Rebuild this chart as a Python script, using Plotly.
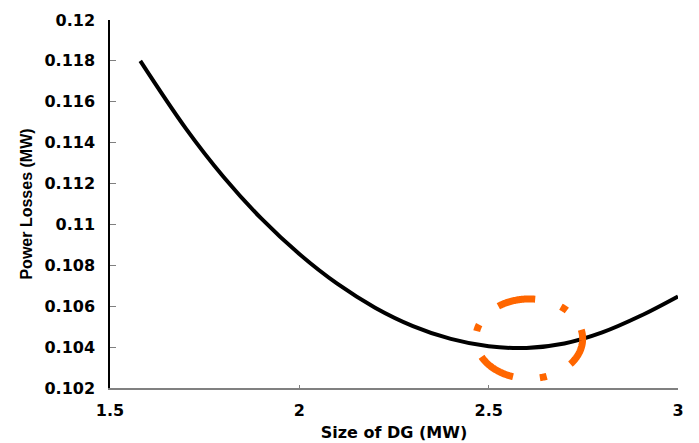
import numpy as np
import plotly.graph_objects as go

# Data
dg_size = [1.58, 1.7, 1.8, 1.9, 2.0, 2.1, 2.2, 2.3, 2.4, 2.5, 2.6, 2.7, 2.8, 2.9, 3.0]
power_losses = [0.11800, 0.11470, 0.11232, 0.11028, 0.10855, 0.10710, 0.10593, 0.10503,
                0.10440, 0.10404, 0.10396, 0.10418, 0.10472, 0.10552, 0.10648]

x_ticks = [1.5, 2, 2.5, 3]
x_tick_text = ["1.5", "2", "2.5", "3"]
y_ticks = [0.102, 0.104, 0.106, 0.108, 0.11, 0.112, 0.114, 0.116, 0.118, 0.12]
y_tick_text = ["0.102", "0.104", "0.106", "0.108", "0.11", "0.112", "0.114", "0.116", "0.118", "0.12"]

# highlight ellipse around the minimum (data coords)
ell_cx, ell_cy = 2.607, 0.10441
ell_rx, ell_ry = 0.1412, 0.001946

fig = go.Figure()
fig.add_trace(go.Scatter(x=dg_size, y=power_losses, mode="lines",
                         line=dict(color="black", width=4, shape="spline", smoothing=1.0),
                         showlegend=False, hoverinfo="skip"))

th = np.deg2rad(np.linspace(347, 347 + 360, 361))
ex = ell_cx + ell_rx * np.cos(th)
ey = ell_cy - ell_ry * np.sin(th)
path = "M " + " L ".join(f"{a},{b}" for a, b in zip(ex, ey))
fig.add_shape(type="path", path=path, xref="x", yref="y",
              line=dict(color="#FF6600", width=7, dash="38px,27px,7px,27px"))

tick_font = dict(family="DejaVu Sans", size=16, color="black", weight="bold")
fig.update_layout(
    width=699, height=443,
    margin=dict(l=110, r=21, t=19.5, b=54.5),
    paper_bgcolor="white", plot_bgcolor="white",
    xaxis=dict(range=[1.5, 3], tickvals=x_ticks, ticktext=x_tick_text, automargin=False,
               showgrid=False, zeroline=False, showline=True, linecolor="#808080", linewidth=1.5,
               ticks="inside", ticklen=3, tickcolor="#808080", tickfont=tick_font,
               ticklabelstandoff=7,
               title=dict(text="Size of DG (MW)", font=tick_font, standoff=8)),
    yaxis=dict(range=[0.102, 0.12], tickvals=y_ticks, ticktext=y_tick_text, automargin=False,
               showgrid=False, zeroline=False, showline=True, linecolor="black", linewidth=1.5,
               ticks="inside", ticklen=6, tickcolor="#808080", tickfont=tick_font,
               ticklabelstandoff=10,
               title=dict(text="Power Losses (MW)",
                          font=dict(family="Liberation Sans, Arial", size=16, color="black", weight="bold"),
                          standoff=8)),
)
fig.write_html("out.html")
